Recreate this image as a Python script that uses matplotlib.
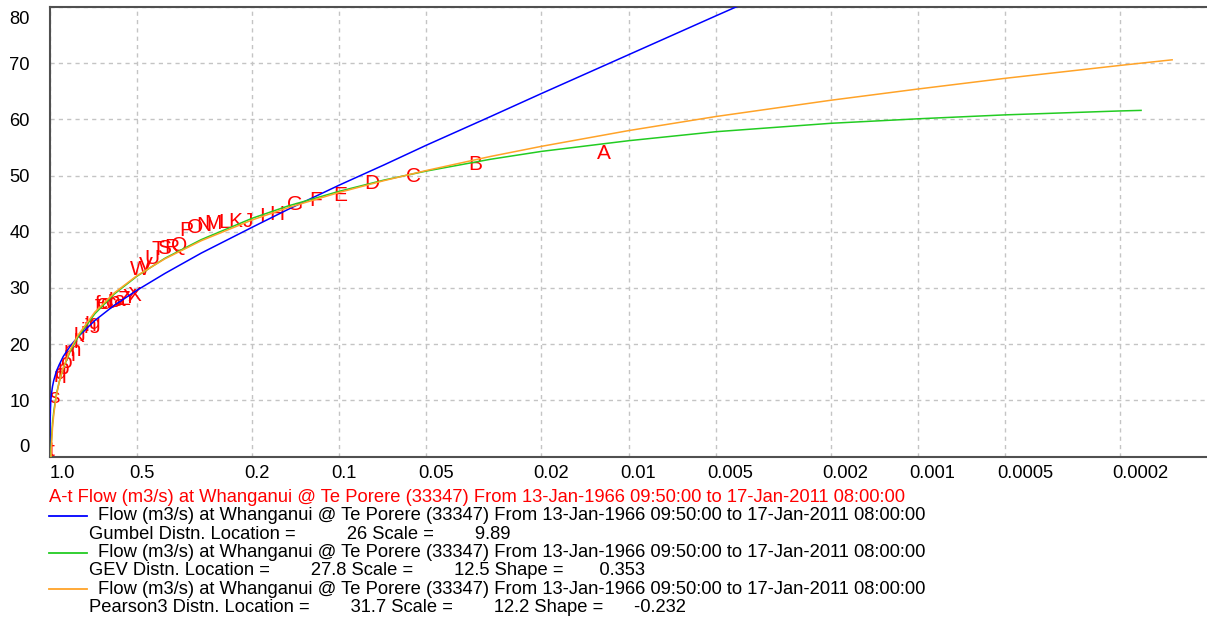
import matplotlib.pyplot as plt
import matplotlib.transforms as mtransforms
from matplotlib.lines import Line2D
from matplotlib.ticker import NullLocator

plt.rcParams['font.family'] = ['Liberation Sans', 'DejaVu Sans']

# --- fitted curves (exceedance probability, flow m3/s) ---
gumbel_prob = [0.999999, 0.9999, 0.999, 0.995, 0.99, 0.98, 0.97, 0.95, 0.93, 0.9,
               0.85, 0.8, 0.7, 0.6, 0.5, 0.4, 0.3, 0.2, 0.15, 0.1,
               0.07, 0.05, 0.03, 0.02, 0.01, 0.005, 0.004]
gumbel_flow = [0.0, 4.0, 6.9, 9.5, 10.9, 12.5, 13.6, 15.2, 16.3, 17.8,
               19.7, 21.3, 24.2, 26.9, 29.6, 32.6, 36.2, 40.8, 44.0, 48.3,
               51.9, 55.4, 60.5, 64.6, 71.5, 78.4, 80.6]

gev_prob = [0.995, 0.99, 0.98, 0.97, 0.95, 0.93, 0.9, 0.85, 0.8, 0.7,
            0.6, 0.5, 0.4, 0.3, 0.2, 0.15, 0.1, 0.07, 0.05, 0.03,
            0.02, 0.01, 0.005, 0.002, 0.001, 0.0005, 0.0002, 0.000169]
gev_flow = [-0.6, 2.5, 5.9, 8.1, 11.1, 13.2, 15.7, 18.8, 21.3, 25.4,
            28.9, 32.1, 35.3, 38.6, 42.4, 44.6, 47.2, 49.2, 50.8, 52.9,
            54.3, 56.2, 57.8, 59.3, 60.1, 60.8, 61.5, 61.6]

p3_prob = [0.995, 0.99, 0.98, 0.97, 0.95, 0.93, 0.9, 0.85, 0.8, 0.7,
           0.6, 0.5, 0.4, 0.3, 0.2, 0.15, 0.1, 0.07, 0.05, 0.03,
           0.02, 0.01, 0.005, 0.002, 0.001, 0.0005, 0.0002, 0.000132]
p3_flow = [-2.4, 1.3, 5.2, 7.6, 10.9, 13.2, 15.8, 19.1, 21.6, 25.7,
           29.1, 32.2, 35.2, 38.4, 42.1, 44.3, 47.0, 49.1, 50.9, 53.4,
           55.2, 58.0, 60.5, 63.4, 65.4, 67.3, 69.6, 70.6]

# --- annual maxima, labelled by rank ---
point_labels = list("ABCDEFGHIJKLMNOPQRSTUVWXYZabcdefghijklmnopqrst")
point_prob = [0.01214, 0.03383, 0.05551, 0.07719, 0.09887, 0.1206, 0.1422, 0.1639, 0.1856, 0.2073,
              0.2290, 0.2507, 0.2723, 0.2940, 0.3157, 0.3374, 0.3591, 0.3807, 0.4024, 0.4241,
              0.4458, 0.4675, 0.4892, 0.5108, 0.5325, 0.5542, 0.5759, 0.5976, 0.6193, 0.6409,
              0.6626, 0.6843, 0.7060, 0.7277, 0.7494, 0.7710, 0.7927, 0.8144, 0.8361, 0.8578,
              0.8794, 0.9011, 0.9228, 0.9445, 0.9662, 0.9879]
point_flow = [54.0, 51.9, 49.8, 48.6, 46.5, 45.6, 44.9, 43.0, 42.7, 41.9,
              41.8, 41.6, 41.5, 41.2, 40.8, 40.2, 37.5, 37.2, 37.1, 36.9,
              35.3, 34.0, 33.3, 28.7, 28.3, 28.0, 27.8, 27.6, 27.4, 27.3,
              27.2, 27.0, 23.6, 23.3, 23.0, 22.3, 21.3, 20.3, 18.8, 18.0,
              16.8, 15.6, 14.8, 14.2, 10.5, 1.0]

x_ticks = [1.0, 0.5, 0.2, 0.1, 0.05, 0.02, 0.01, 0.005, 0.002, 0.001, 0.0005, 0.0002]
x_ticklabels = ['1.0', '0.5', '0.2', '0.1', '0.05', '0.02', '0.01', '0.005',
                '0.002', '0.001', '0.0005', '0.0002']

series_name = "Flow (m3/s) at Whanganui @ Te Porere (33347) From 13-Jan-1966 09:50:00 to 17-Jan-2011 08:00:00"
fits = [
    ('#0000ff', "Gumbel Distn. Location =          26 Scale =        9.89"),
    ('#22cc22', "GEV Distn. Location =        27.8 Scale =        12.5 Shape =       0.353"),
    ('#ffa328', "Pearson3 Distn. Location =        31.7 Scale =        12.2 Shape =      -0.232"),
]

W, H = 1207, 620
fig = plt.figure(figsize=(W / 100, H / 100), dpi=100)
ax = fig.add_axes([50 / W, 1 - 456.5 / H, 1157 / W, 449.5 / H])

ax.plot(gumbel_prob, gumbel_flow, color=fits[0][0], lw=1.1, zorder=3)
ax.plot(gev_prob, gev_flow, color=fits[1][0], lw=1.1, zorder=3)
ax.plot(p3_prob, p3_flow, color=fits[2][0], lw=1.1, zorder=3)

for lab, p, q in zip(point_labels, point_prob, point_flow):
    ax.text(p, q, lab, color='#ff0000', fontsize=15, ha='center', va='center',
            clip_on=False, zorder=2)

ax.set_xscale('log')
ax.set_xlim(1.0, 1e-4)
ax.set_ylim(0, 80)
ax.set_xticks(x_ticks)
ax.set_xticklabels(x_ticklabels)
ax.xaxis.set_minor_locator(NullLocator())
ax.set_yticks(range(0, 90, 10))

ax.grid(True, color='#c4c4c4', linestyle=(0, (3, 3)), lw=1.0)
ax.set_axisbelow(True)
ax.tick_params(axis='both', length=0, labelsize=13.2)
ax.tick_params(axis='y', pad=14.4)
ax.tick_params(axis='x', pad=6)

for s in ['left', 'bottom', 'top']:
    ax.spines[s].set_color('#505050')
    ax.spines[s].set_linewidth(1.5)
ax.spines['right'].set_visible(False)

# shift tick labels the way the original program lays them out
for i, lab in enumerate(ax.get_xticklabels()):
    dx = 0 if i == 0 else -8
    lab.set_horizontalalignment('left')
    lab.set_transform(lab.get_transform() + mtransforms.ScaledTranslation(dx / 100, 0, fig.dpi_scale_trans))
ylabs = ax.get_yticklabels()
ylabs[0].set_transform(ylabs[0].get_transform() + mtransforms.ScaledTranslation(0, 11.5 / 100, fig.dpi_scale_trans))
ylabs[-1].set_transform(ylabs[-1].get_transform() + mtransforms.ScaledTranslation(0, -11 / 100, fig.dpi_scale_trans))

# legend block under the plot
fig.text(49 / W, 1 - 497 / H, "A-t " + series_name, color='#ff0000', fontsize=13.2, va='center')
row_y = [516, 552.5, 589]
for (col, desc), y in zip(fits, row_y):
    fig.add_artist(Line2D([49 / W, 87 / W], [1 - y / H, 1 - y / H], color=col, lw=1.3))
    fig.text(98 / W, 1 - y / H, series_name, color='black', fontsize=13.2, va='center')
    fig.text(89 / W, 1 - (y + 18.3) / H, desc, color='black', fontsize=13.2, va='center')

fig.savefig('out.png', dpi=100)
